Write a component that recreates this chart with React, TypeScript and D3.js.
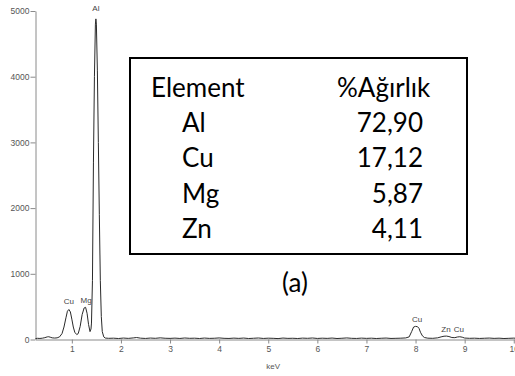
import * as React from 'react'
import * as d3 from 'd3'

// EDS spectrum (keV, counts)
const energy = [
  0.26, 0.30, 0.35, 0.40, 0.45, 0.50, 0.53, 0.56, 0.60, 0.65, 0.70, 0.75, 0.80, 0.84, 0.88, 0.91,
  0.94, 0.97, 1.00, 1.03, 1.06, 1.10, 1.13, 1.17, 1.21, 1.25, 1.28, 1.31, 1.34, 1.37, 1.39,
  1.40, 1.42, 1.44, 1.46, 1.48, 1.49, 1.50, 1.52, 1.54, 1.56, 1.58, 1.60, 1.62, 1.65, 1.68,
  1.75, 1.85, 1.95, 2.05, 2.15, 2.25, 2.32, 2.40, 2.50, 2.60, 2.70, 2.80, 2.90, 3.00, 3.10,
  3.20, 3.30, 3.40, 3.50, 3.60, 3.70, 3.80, 3.90, 4.00, 4.10, 4.20, 4.30, 4.40, 4.50, 4.60,
  4.70, 4.80, 4.90, 5.00, 5.10, 5.20, 5.30, 5.40, 5.50, 5.60, 5.70, 5.80, 5.90, 6.00, 6.10,
  6.20, 6.30, 6.40, 6.50, 6.60, 6.70, 6.80, 6.90, 7.00, 7.10, 7.20, 7.30, 7.40, 7.50, 7.60,
  7.70, 7.80, 7.87, 7.92, 7.96, 8.00, 8.04, 8.07, 8.10, 8.14, 8.18, 8.25, 8.35, 8.45, 8.52,
  8.58, 8.63, 8.68, 8.74, 8.80, 8.85, 8.90, 8.95, 9.00, 9.10, 9.20, 9.30, 9.40, 9.50, 9.60,
  9.70, 9.80, 9.90, 10.00, 10.10, 10.20, 10.30
]
const counts = [
  15, 18, 16, 20, 28, 40, 42, 35, 25, 22, 25, 40, 90, 190, 330, 430,
  457, 420, 310, 190, 110, 75, 90, 200, 380, 480, 490, 400, 230, 120, 160,
  250, 900, 2700, 4000, 4800, 4880, 4800, 4100, 3000, 1900, 900, 350, 120, 40, 22,
  18, 20, 15, 22, 17, 24, 30, 20, 16, 22, 18, 25, 19, 17, 21,
  16, 23, 18, 20, 15, 22, 17, 19, 24, 18, 16, 21, 17, 22, 15,
  19, 23, 16, 20, 18, 14, 22, 17, 19, 15, 21, 18, 23, 16, 20,
  17, 22, 15, 19, 24, 18, 16, 21, 17, 20, 15, 19, 22, 16, 18,
  20, 24, 40, 120, 190, 200, 195, 170, 110, 55, 30, 20, 18, 25, 40,
  50, 52, 45, 30, 28, 38, 42, 35, 22, 18, 20, 16, 19, 22, 17,
  20, 15, 18, 21, 16, 19, 17
]

const peakNames = ['Al', 'Cu', 'Mg', 'Cu', 'Zn', 'Cu']
const peakKeV = [1.49, 0.94, 1.29, 8.03, 8.62, 8.88]
const peakTop = [5000, 540, 555, 270, 120, 120]

const yTicks = [0, 1000, 2000, 3000, 4000, 5000]
const xTicks = [1, 2, 3, 4, 5, 6, 7, 8, 9, 10]

const elements = ['Al', 'Cu', 'Mg', 'Zn']
const weightPct = ['72,90', '17,12', '5,87', '4,11']

const W = 515
const H = 376

export default function App() {
  const xRef = React.useRef<SVGGElement>(null)
  const yRef = React.useRef<SVGGElement>(null)

  const x = d3.scaleLinear().domain([0.26, 10.3]).range([35.5, 528.5])
  const y = d3.scaleLinear().domain([0, 5000]).range([339.5, 11])

  const data = energy.map((e, i) => ({ e, c: counts[i] }))
  const line = d3.line<{ e: number; c: number }>()
    .x(d => x(d.e))
    .y(d => y(d.c))

  React.useEffect(() => {
    const xa = d3.select(xRef.current!)
    xa.call(d3.axisBottom(x).tickValues(xTicks).tickSize(4).tickSizeOuter(0).tickFormat(d3.format('d')))
    const ya = d3.select(yRef.current!)
    ya.call(d3.axisLeft(y).tickValues(yTicks).tickSize(5).tickSizeOuter(0).tickFormat(d3.format('d')))
    for (const g of [xa, ya]) {
      g.selectAll('.domain').attr('stroke', '#8a8a8a')
      g.selectAll('.tick line').attr('stroke', '#8a8a8a')
      g.selectAll('.tick text')
        .attr('fill', '#555')
        .attr('font-size', 8.5)
        .attr('font-family', '"Liberation Sans", Arial, sans-serif')
    }
    ya.selectAll('.tick text').attr('x', -6)
    xa.selectAll('.tick text').attr('y', 6)
  }, [])

  return (
    <svg width={W} height={H} style={{ position: 'absolute', left: 0, top: 0, background: '#fff' }}>
      <g ref={xRef} transform="translate(0,339.5)" />
      <g ref={yRef} transform="translate(35.5,0)" />
      <path d={line(data)!} fill="none" stroke="#2a2a2a" strokeWidth={1} />
      <text x={x(5.1)} y={369} fontSize={8} fill="#555" textAnchor="middle"
        fontFamily='"Liberation Sans", Arial, sans-serif'>keV</text>
      {peakNames.map((n, i) => (
        <text key={i} x={x(peakKeV[i])} y={y(peakTop[i])} fontSize={8} fill="#444"
          textAnchor="middle" fontFamily='"Liberation Sans", Arial, sans-serif'>{n}</text>
      ))}

      <rect x={130} y={58} width={337} height={196} fill="#fff" stroke="#000" strokeWidth={2} />
      <g fontFamily="Lato, 'Open Sans', sans-serif" fontSize={26} fill="#000">
        <text x={151} y={97}>Element</text>
        <text x={337} y={97}>%Ağırlık</text>
        {elements.map((el, i) => (
          <text key={el} x={182} y={132 + i * 35.3}>{el}</text>
        ))}
        {weightPct.map((v, i) => (
          <text key={i} x={423} y={132 + i * 35.3} textAnchor="end">{v}</text>
        ))}
        <text x={295} y={292} textAnchor="middle">(a)</text>
      </g>
    </svg>
  )
}
